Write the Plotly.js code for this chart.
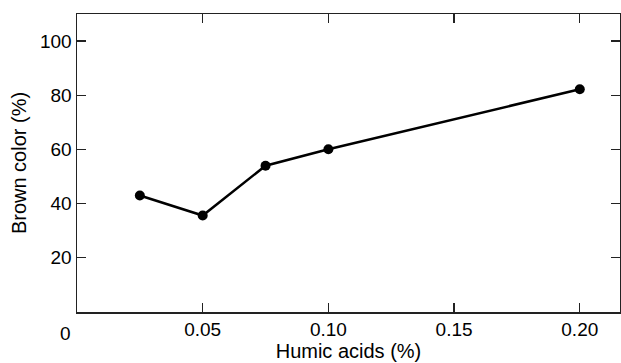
<!DOCTYPE html>
<html>
<head>
<meta charset="utf-8">
<script src="https://cdn.plot.ly/plotly-3.0.1.min.js"></script>
<style>html,body{margin:0;padding:0;background:#fff;}#chart{width:621px;height:363px;}</style>
</head>
<body>
<div id="chart"></div>
<script>
const humicAcids = [0.025, 0.05, 0.075, 0.10, 0.20];
const brownColor = [43, 35.6, 54, 60.1, 82.2];
const xTickVals = [0.05, 0.10, 0.15, 0.20];
const xTickText = ['0.05', '0.10', '0.15', '0.20'];
const yTickVals = [20, 40, 60, 80, 100];
const yTickText = ['20', '40', '60', '80', '100'];

const fontFam = 'Liberation Sans, Arial, Helvetica, sans-serif';

const trace = {
  x: humicAcids,
  y: brownColor,
  type: 'scatter',
  mode: 'lines+markers',
  line: {color: '#000', width: 2.5},
  marker: {color: '#000', size: 10},
  cliponaxis: false,
  showlegend: false
};

const layout = {
  width: 621,
  height: 363,
  margin: {l: 77, r: 1, t: 14, b: 51, pad: 0},
  paper_bgcolor: '#fff',
  plot_bgcolor: '#fff',
  font: {family: fontFam, color: '#000', size: 19},
  xaxis: {
    range: [0, 0.216],
    tickmode: 'array',
    tickvals: xTickVals,
    ticktext: xTickText,
    ticks: 'inside',
    ticklen: 9,
    tickwidth: 1.3,
    tickcolor: '#222',
    showline: true,
    linecolor: '#222',
    linewidth: 1.5,
    mirror: 'ticks',
    showgrid: false,
    zeroline: false,
    tickfont: {size: 19, family: fontFam},
    title: {text: 'Humic acids (%)', font: {size: 20, family: fontFam}, standoff: 4}
  },
  yaxis: {
    range: [0, 110],
    tickmode: 'array',
    tickvals: yTickVals,
    ticktext: yTickText,
    ticks: 'inside',
    ticklen: 9,
    tickwidth: 1.3,
    tickcolor: '#222',
    showline: true,
    linecolor: '#222',
    linewidth: 1.5,
    mirror: 'ticks',
    showgrid: false,
    zeroline: false,
    tickfont: {size: 19, family: fontFam},
    title: {text: 'Brown color (%)', font: {size: 20, family: fontFam}, standoff: 8}
  },
  annotations: [{
    text: '0',
    xref: 'paper', yref: 'paper',
    x: 0, y: 0,
    xanchor: 'center', yanchor: 'top',
    xshift: -12, yshift: -9,
    showarrow: false,
    font: {size: 19, family: fontFam, color: '#000'}
  }]
};

Plotly.newPlot('chart', [trace], layout, {displayModeBar: false, staticPlot: true});
</script>
</body>
</html>
